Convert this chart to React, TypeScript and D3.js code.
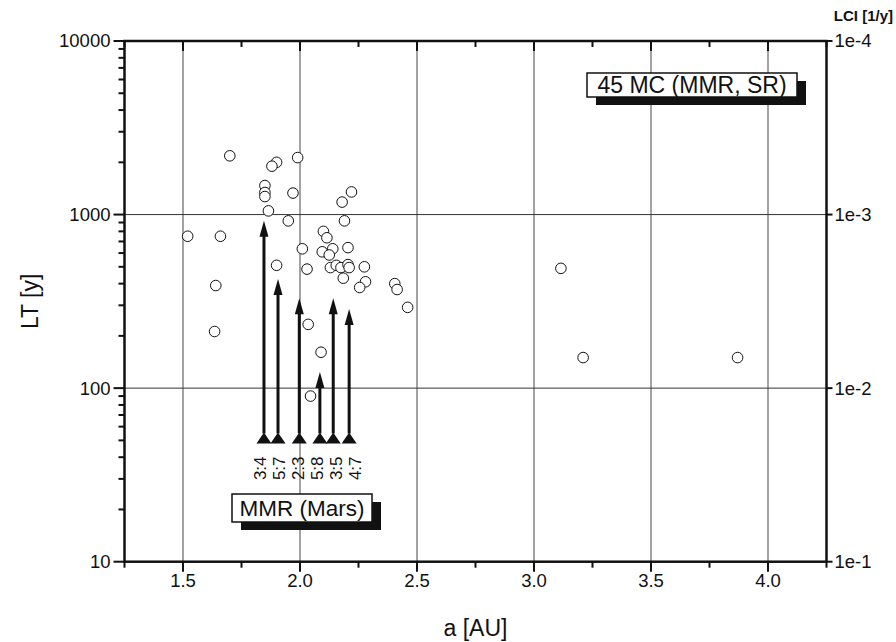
import React, { useEffect, useRef } from 'react'
import * as d3 from 'd3'

// semi-major axis [AU] and lifetime [y] of the 45 clones
const semiMajor = [
  1.7, 1.9, 1.88, 1.99, 1.85, 1.85, 1.85, 1.97, 2.22, 2.18, 1.865, 1.95, 2.19, 1.52, 1.66,
  2.1, 2.115, 2.01, 2.14, 2.095, 2.125, 2.205, 1.9, 2.03, 2.13, 2.155, 2.175, 2.205, 2.21,
  2.275, 2.185, 2.28, 2.255, 2.405, 2.415, 1.64, 2.035, 1.635, 2.09, 2.045, 2.46, 3.115,
  3.21, 3.87,
]
const lifetime = [
  2180, 2000, 1900, 2130, 1470, 1340, 1270, 1330, 1350, 1180, 1050, 920, 920, 750, 750,
  800, 735, 635, 635, 610, 585, 645, 510, 485, 495, 510, 495, 515, 495,
  500, 430, 410, 380, 400, 370, 390, 233, 212, 161, 90, 292, 490,
  150, 150,
]

// mean motion resonances with Mars
const mmrNames = ['3:4', '5:7', '2:3', '5:8', '3:5', '4:7']
const mmrA = [1.846, 1.906, 1.997, 2.085, 2.142, 2.21]
const mmrTop = [920, 425, 330, 124, 330, 286]
const mmrBase = 48

const xTicks = [1.5, 2.0, 2.5, 3.0, 3.5, 4.0]
const yTicks = [10, 100, 1000, 10000]
const lciLabels = ['1e-1', '1e-2', '1e-3', '1e-4']

const W = 896
const H = 642
const FONT = 'Liberation Sans, Arial, sans-serif'

const App = () => {
  const ref = useRef<SVGSVGElement>(null)

  useEffect(() => {
    const svg = d3.select(ref.current)
    svg.selectAll('*').remove()

    const x = d3.scaleLinear().domain([1.25, 4.25]).range([124.5, 826.5])
    const y = d3.scaleLog().domain([10, 10000]).range([561.7, 41])
    const [x0, x1] = x.range()
    const [yb, yt] = y.range()

    svg.append('rect').attr('width', W).attr('height', H).attr('fill', '#fff')

    // grid
    svg.append('g')
      .selectAll('line')
      .data(xTicks)
      .join('line')
      .attr('x1', d => x(d)).attr('x2', d => x(d))
      .attr('y1', yt).attr('y2', yb)
      .attr('stroke', '#666').attr('stroke-width', 1.2)
    svg.append('g')
      .selectAll('line')
      .data([100, 1000])
      .join('line')
      .attr('x1', x0).attr('x2', x1)
      .attr('y1', d => y(d)).attr('y2', d => y(d))
      .attr('stroke', '#333').attr('stroke-width', 1)

    // ticks
    const minorX = d3.range(1.25, 4.26, 0.25)
    const tick = svg.append('g').attr('stroke', '#111').attr('stroke-width', 2)
    minorX.forEach(v => {
      const major = xTicks.some(t => Math.abs(t - v) < 1e-6)
      const len = major ? 10 : 6
      tick.append('line').attr('x1', x(v)).attr('x2', x(v)).attr('y1', yb).attr('y2', yb + len)
      tick.append('line').attr('x1', x(v)).attr('x2', x(v)).attr('y1', yt).attr('y2', yt + len)
    })
    const minorY: number[] = []
    for (let e = 10; e < 10000; e *= 10) for (let k = 2; k < 10; k++) minorY.push(e * k)
    minorY.forEach(v => {
      tick.append('line').attr('x1', x0 - 6).attr('x2', x0).attr('y1', y(v)).attr('y2', y(v))
    })
    yTicks.forEach(v => {
      tick.append('line').attr('x1', x0 - 11).attr('x2', x0).attr('y1', y(v)).attr('y2', y(v))
      tick.append('line').attr('x1', x1).attr('x2', x1 + 6).attr('y1', y(v)).attr('y2', y(v))
    })

    // frame
    svg.append('rect')
      .attr('x', x0).attr('y', yt).attr('width', x1 - x0).attr('height', yb - yt)
      .attr('fill', 'none').attr('stroke', '#111').attr('stroke-width', 2.5)

    // tick labels
    const lab = svg.append('g').attr('font-family', FONT).attr('font-size', 18.5).attr('fill', '#111')
    xTicks.forEach(v => {
      lab.append('text').attr('x', x(v)).attr('y', 587).attr('text-anchor', 'middle').text(v.toFixed(1))
    })
    yTicks.forEach(v => {
      lab.append('text').attr('x', x0 - 14).attr('y', y(v)).attr('dy', '0.35em').attr('text-anchor', 'end').text(v)
    })
    yTicks.forEach((v, i) => {
      lab.append('text').attr('x', x1 + 8).attr('y', y(v)).attr('dy', '0.35em').text(lciLabels[i])
    })

    // axis titles
    svg.append('text').attr('x', (x0 + x1) / 2).attr('y', 636).attr('text-anchor', 'middle')
      .attr('font-family', FONT).attr('font-size', 23).attr('fill', '#111').text('a [AU]')
    svg.append('text').attr('transform', `translate(38, ${(yt + yb) / 2}) rotate(-90)`)
      .attr('text-anchor', 'middle').attr('font-family', FONT).attr('font-size', 23).attr('fill', '#111').text('LT [y]')
    svg.append('text').attr('x', 893).attr('y', 21).attr('text-anchor', 'end')
      .attr('font-family', FONT).attr('font-size', 15).attr('font-weight', 'bold').attr('fill', '#111').text('LCI [1/y]')

    // resonance arrows
    const arr = svg.append('g').attr('fill', '#111')
    mmrA.forEach((a, i) => {
      const cx = x(a)
      const by = y(mmrBase)
      const ty = y(mmrTop[i])
      arr.append('line').attr('x1', cx).attr('x2', cx).attr('y1', by - 10).attr('y2', ty + 12)
        .attr('stroke', '#111').attr('stroke-width', 3)
      arr.append('path').attr('d', `M${cx},${ty}L${cx - 4.5},${ty + 16}L${cx + 4.5},${ty + 16}Z`)
      arr.append('path').attr('d', `M${cx},${by - 11}L${cx - 7.5},${by}L${cx + 7.5},${by}Z`)
    })
    const meanX = d3.mean(mmrA.map(a => x(a))) as number
    mmrNames.forEach((n, i) => {
      const lx = meanX + (i - (mmrNames.length - 1) / 2) * 19
      svg.append('text').attr('transform', `translate(${lx + 6}, ${y(mmrBase) + 13}) rotate(-90)`)
        .attr('text-anchor', 'end').attr('font-family', FONT).attr('font-size', 17).attr('fill', '#111').text(n)
    })

    // points
    svg.append('g')
      .selectAll('circle')
      .data(semiMajor.map((a, i) => [a, lifetime[i]]))
      .join('circle')
      .attr('cx', d => x(d[0])).attr('cy', d => y(d[1])).attr('r', 5.3)
      .attr('fill', '#fff').attr('stroke', '#111').attr('stroke-width', 1)

    // legend boxes with shadow
    const box = (bx: number, by: number, bw: number, bh: number, txt: string, fs: number) => {
      const g = svg.append('g')
      g.append('rect').attr('x', bx + 9).attr('y', by + 8).attr('width', bw).attr('height', bh).attr('fill', '#111')
      g.append('rect').attr('x', bx).attr('y', by).attr('width', bw).attr('height', bh)
        .attr('fill', '#fff').attr('stroke', '#111').attr('stroke-width', 1.5)
      g.append('text').attr('x', bx + bw / 2).attr('y', by + bh / 2).attr('dy', '0.36em')
        .attr('text-anchor', 'middle').attr('font-family', FONT).attr('font-size', fs).attr('fill', '#111').text(txt)
    }
    box(232, 494, 140, 28, 'MMR (Mars)', 22.5)
    box(587, 73, 210, 24, '45 MC (MMR, SR)', 23)
  }, [])

  return <svg ref={ref} width={W} height={H} style={{ position: 'absolute', left: 0, top: 0 }}></svg>
}

export default App
